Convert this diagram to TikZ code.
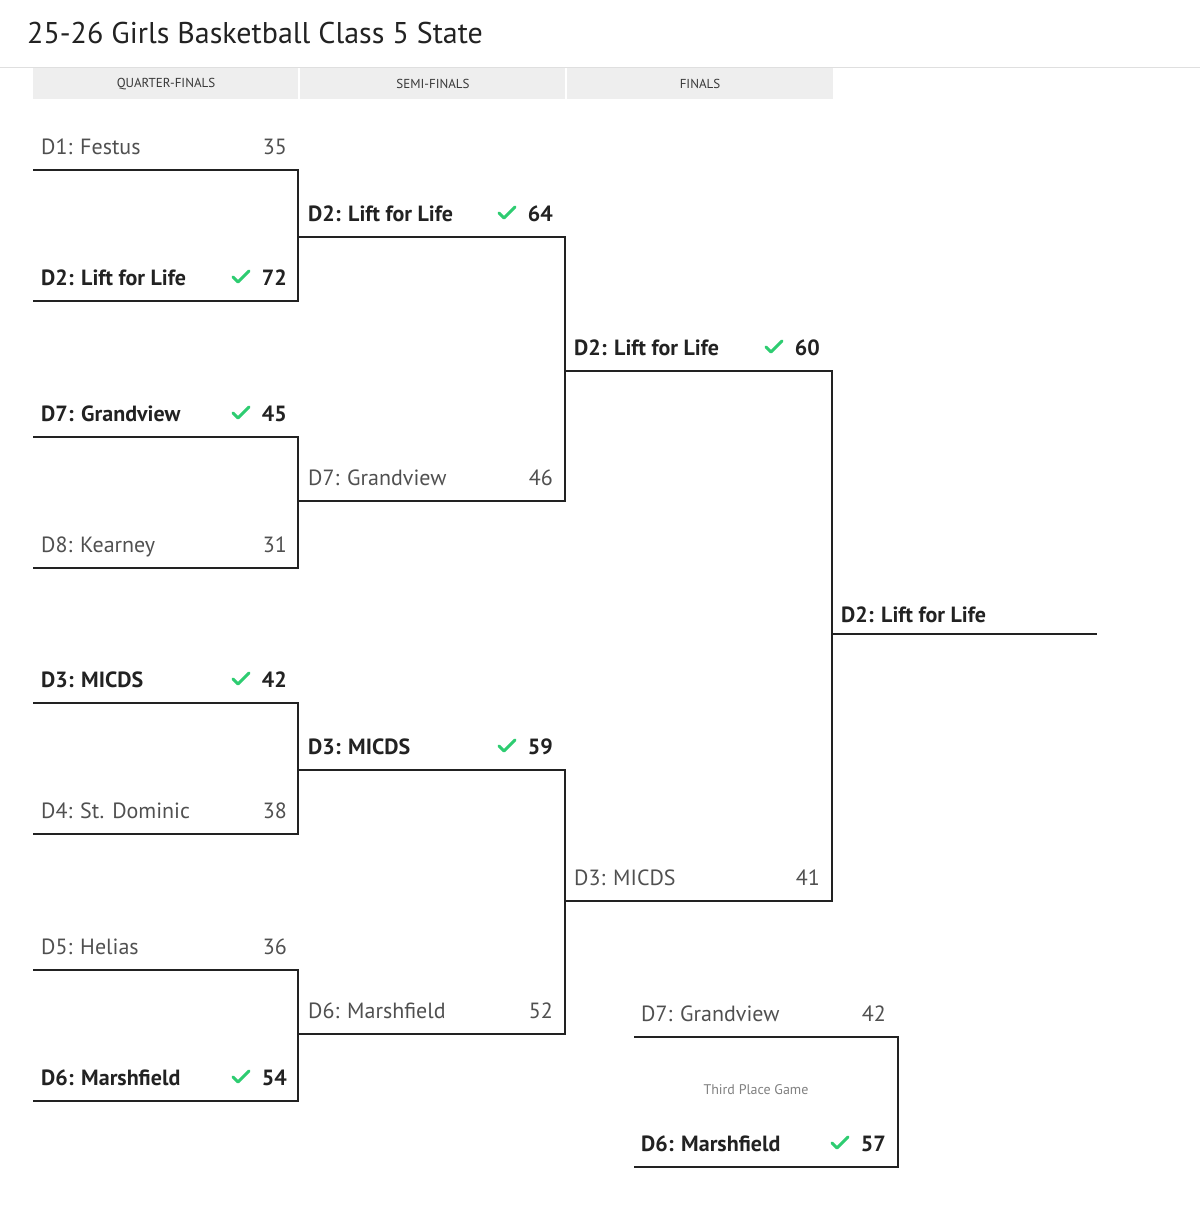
\documentclass[tikz,border=0pt]{standalone}
\usepackage{fontspec}
\setmainfont{PT Sans}
\usetikzlibrary{positioning}
\definecolor{wingreen}{RGB}{46,204,113}
\definecolor{linedark}{RGB}{34,34,34}
\definecolor{headgray}{RGB}{238,238,238}
\definecolor{losegray}{RGB}{80,80,80}

\tikzset{
	team/.style={anchor=base west, inner sep=0pt, font=\fontsize{22}{26}\selectfont},
	winner/.style={team, font=\fontsize{22}{26}\selectfont\bfseries, text=linedark},
	loser/.style={team, text=losegray},
	score/.style={anchor=base east, inner sep=0pt, font=\fontsize{22}{26}\selectfont, text=losegray},
	winscore/.style={score, font=\fontsize{22}{26}\selectfont\bfseries, text=linedark},
	bracket/.style={linedark, line width=2.5pt},
	round label/.style={font=\fontsize{13}{15}\selectfont, text=linedark!90},
	tick/.pic={\draw[wingreen, line width=3pt, line cap=round, line join=round] (-8,0) -- (-3,5) -- (8,-6);}
}

\begin{document}
\begin{tikzpicture}[x=1pt, y=-1pt]
	\useasboundingbox (0,0) rectangle (1200,1216);
	
	% title and round headers
	\node[anchor=base west, inner sep=0pt, font=\fontsize{30}{36}\selectfont, text=linedark] (title) at (27,43) {25-26 Girls Basketball Class 5 State};
	\draw[gray!25, line width=1pt] (0,67) -- (1200,67);
	\fill[headgray] (33,68) rectangle (298,99);
	\fill[headgray] (300,68) rectangle (565,99);
	\fill[headgray] (567,68) rectangle (833,99);
	\node[round label] (hq) at (166,84) {QUARTER-FINALS};
	\node[round label] (hs) at (433,84) {SEMI-FINALS};
	\node[round label] (hf) at (700,84) {FINALS};
	
	% bracket corners
	\foreach \i/\ya/\yb in {1/170/301, 2/437/568, 3/703/834, 4/970/1101}{
		\coordinate (q\i a) at (33,\ya);
		\coordinate (q\i ae) at (298,\ya);
		\coordinate (q\i b) at (33,\yb);
		\coordinate (q\i be) at (298,\yb);
	}
	\foreach \i/\ya/\yb in {1/237/501, 2/770/1034}{
		\coordinate (s\i a) at (298,\ya);
		\coordinate (s\i ae) at (565,\ya);
		\coordinate (s\i b) at (298,\yb);
		\coordinate (s\i be) at (565,\yb);
	}
	\coordinate (fa) at (565,371);
	\coordinate (fae) at (832,371);
	\coordinate (fb) at (565,901);
	\coordinate (fbe) at (832,901);
	\coordinate (champ) at (832,634);
	\coordinate (champe) at (1097,634);
	\coordinate (ta) at (634,1037);
	\coordinate (tae) at (898,1037);
	\coordinate (tb) at (634,1167);
	\coordinate (tbe) at (898,1167);
	
	\foreach \i in {1,...,4}
		\draw[bracket] (q\i a) -- (q\i ae) -- (q\i be) -- (q\i b);
	\foreach \i in {1,2}
		\draw[bracket] (s\i a) -- (s\i ae) -- (s\i be) -- (s\i b);
	\draw[bracket] (fa) -- (fae) -- (fbe) -- (fb);
	\draw[bracket] (champ) -- (champe);
	\draw[bracket] (ta) -- (tae) -- (tbe) -- (tb);
	
	% quarter-finals
	\node[loser] (q1n) at (41,154) {D1: Festus};
	\node[score] (q1s) at (287,154) {35};
	\node[winner] (q2n) at (41,285) {D2: Lift for Life};
	\node[winscore] (q2s) at (287,285) {72};
	\pic at (241,277) {tick};
	\node[winner] (q3n) at (41,421) {D7: Grandview};
	\node[winscore] (q3s) at (287,421) {45};
	\pic at (241,413) {tick};
	\node[loser] (q4n) at (41,552) {D8: Kearney};
	\node[score] (q4s) at (287,552) {31};
	\node[winner] (q5n) at (41,687) {D3: MICDS};
	\node[winscore] (q5s) at (287,687) {42};
	\pic at (241,679) {tick};
	\node[loser] (q6n) at (41,818) {D4: St. Dominic};
	\node[score] (q6s) at (287,818) {38};
	\node[loser] (q7n) at (41,954) {D5: Helias};
	\node[score] (q7s) at (287,954) {36};
	\node[winner] (q8n) at (41,1085) {D6: Marshfield};
	\node[winscore] (q8s) at (287,1085) {54};
	\pic at (241,1077) {tick};
	
	% semi-finals
	\node[winner] (s1n) at (308,221) {D2: Lift for Life};
	\node[winscore] (s1s) at (553,221) {64};
	\pic at (507,213) {tick};
	\node[loser] (s2n) at (308,485) {D7: Grandview};
	\node[score] (s2s) at (553,485) {46};
	\node[winner] (s3n) at (308,754) {D3: MICDS};
	\node[winscore] (s3s) at (553,754) {59};
	\pic at (507,746) {tick};
	\node[loser] (s4n) at (308,1018) {D6: Marshfield};
	\node[score] (s4s) at (553,1018) {52};
	
	% finals
	\node[winner] (f1n) at (574,355) {D2: Lift for Life};
	\node[winscore] (f1s) at (820,355) {60};
	\pic at (774,347) {tick};
	\node[loser] (f2n) at (574,885) {D3: MICDS};
	\node[score] (f2s) at (820,885) {41};
	\node[winner] (champn) at (841,622) {D2: Lift for Life};
	
	% third place
	\node[loser] (t1n) at (641,1021) {D7: Grandview};
	\node[score] (t1s) at (886,1021) {42};
	\node[font=\fontsize{14}{16}\selectfont, text=gray] (tlabel) at (756,1090) {Third Place Game};
	\node[winner] (t2n) at (641,1151) {D6: Marshfield};
	\node[winscore] (t2s) at (886,1151) {57};
	\pic at (840,1143) {tick};
\end{tikzpicture}
\end{document}
